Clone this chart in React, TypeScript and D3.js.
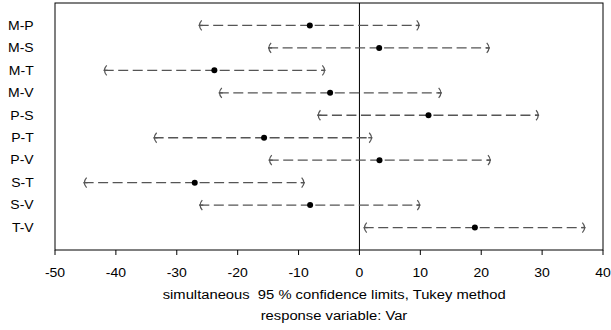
import React from "react";
import * as d3 from "d3";

const comparisons = ["M-P", "M-S", "M-T", "M-V", "P-S", "P-T", "P-V", "S-T", "S-V", "T-V"];
const estimates = [-8.15, 3.24, -23.83, -4.82, 11.34, -15.66, 3.29, -27.05, -8.1, 18.96];
const lowerLimits = [-26.4, -15.0, -42.0, -23.1, -6.9, -33.8, -14.9, -45.3, -26.3, 0.7];
const upperLimits = [9.9, 21.4, -5.6, 13.5, 29.5, 2.1, 21.6, -9.0, 10.0, 37.1];
const xTicks = [-50, -40, -30, -20, -10, 0, 10, 20, 30, 40];
const xLabel1 = "simultaneous  95 % confidence limits, Tukey method";
const xLabel2 = "response variable: Var";

const W = 611;
const H = 330;
const left = 55;
const right = 603;
const top = 3;
const bottom = 250;

export default function App() {
  const x = d3.scaleLinear().domain([-50, 40]).range([left, right]);
  const y = d3.scaleLinear().domain([0, comparisons.length + 1]).range([top, bottom]);
  const font = "'Liberation Sans', Arial, sans-serif";
  const lineColor = "#555";
  const sx = 1.12;

  return (
    <svg width={W} height={H} style={{ position: "absolute", left: 0, top: 0 }} fontFamily={font}>
      <rect x={0} y={0} width={W} height={H} fill="#fff" />
      <rect x={left} y={top} width={right - left} height={bottom - top} fill="none" stroke="#000" strokeWidth={1} />
      <line x1={x(0)} x2={x(0)} y1={top} y2={bottom} stroke="#000" strokeWidth={1} />
      {comparisons.map((c, i) => {
        const yy = y(i + 1);
        const xl = x(lowerLimits[i]);
        const xu = x(upperLimits[i]);
        const xe = x(estimates[i]);
        return (
          <g key={c}>
            <g transform={`translate(33.7,${yy + 4.3}) scale(${sx},1)`}>
              <text x={0} y={0} textAnchor="end" fontSize={12.5} fill="#000">
                {c}
              </text>
            </g>
            <line x1={xl} x2={xu} y1={yy} y2={yy} stroke={lineColor} strokeWidth={1.3} strokeDasharray="10,4.5" />
            <path d={`M${xl + 3},${yy - 5} Q${xl - 1.5},${yy} ${xl + 3},${yy + 5}`} fill="none" stroke={lineColor} strokeWidth={1.2} />
            <path d={`M${xu - 3},${yy - 5} Q${xu + 1.5},${yy} ${xu - 3},${yy + 5}`} fill="none" stroke={lineColor} strokeWidth={1.2} />
            <line x1={xl} x2={xl + 4} y1={yy} y2={yy} stroke={lineColor} strokeWidth={1.3} />
            <line x1={xu - 4} x2={xu} y1={yy} y2={yy} stroke={lineColor} strokeWidth={1.3} />
            <circle cx={xe} cy={yy} r={3} fill="#000" />
          </g>
        );
      })}
      {xTicks.map((t) => (
        <g key={t}>
          <line x1={x(t)} x2={x(t)} y1={bottom} y2={bottom + 5} stroke="#000" strokeWidth={1} />
          <g transform={`translate(${x(t)},277) scale(${sx},1)`}>
            <text x={0} y={0} textAnchor="middle" fontSize={12.5} fill="#000">
              {t}
            </text>
          </g>
        </g>
      ))}
      <text x={162.7} y={299} fontSize={12.5} fill="#000" textLength={343} lengthAdjust="spacingAndGlyphs" style={{ whiteSpace: "pre" }}>
        {xLabel1}
      </text>
      <text x={260.7} y={320} fontSize={12.5} fill="#000" textLength={146.6} lengthAdjust="spacingAndGlyphs">
        {xLabel2}
      </text>
    </svg>
  );
}
